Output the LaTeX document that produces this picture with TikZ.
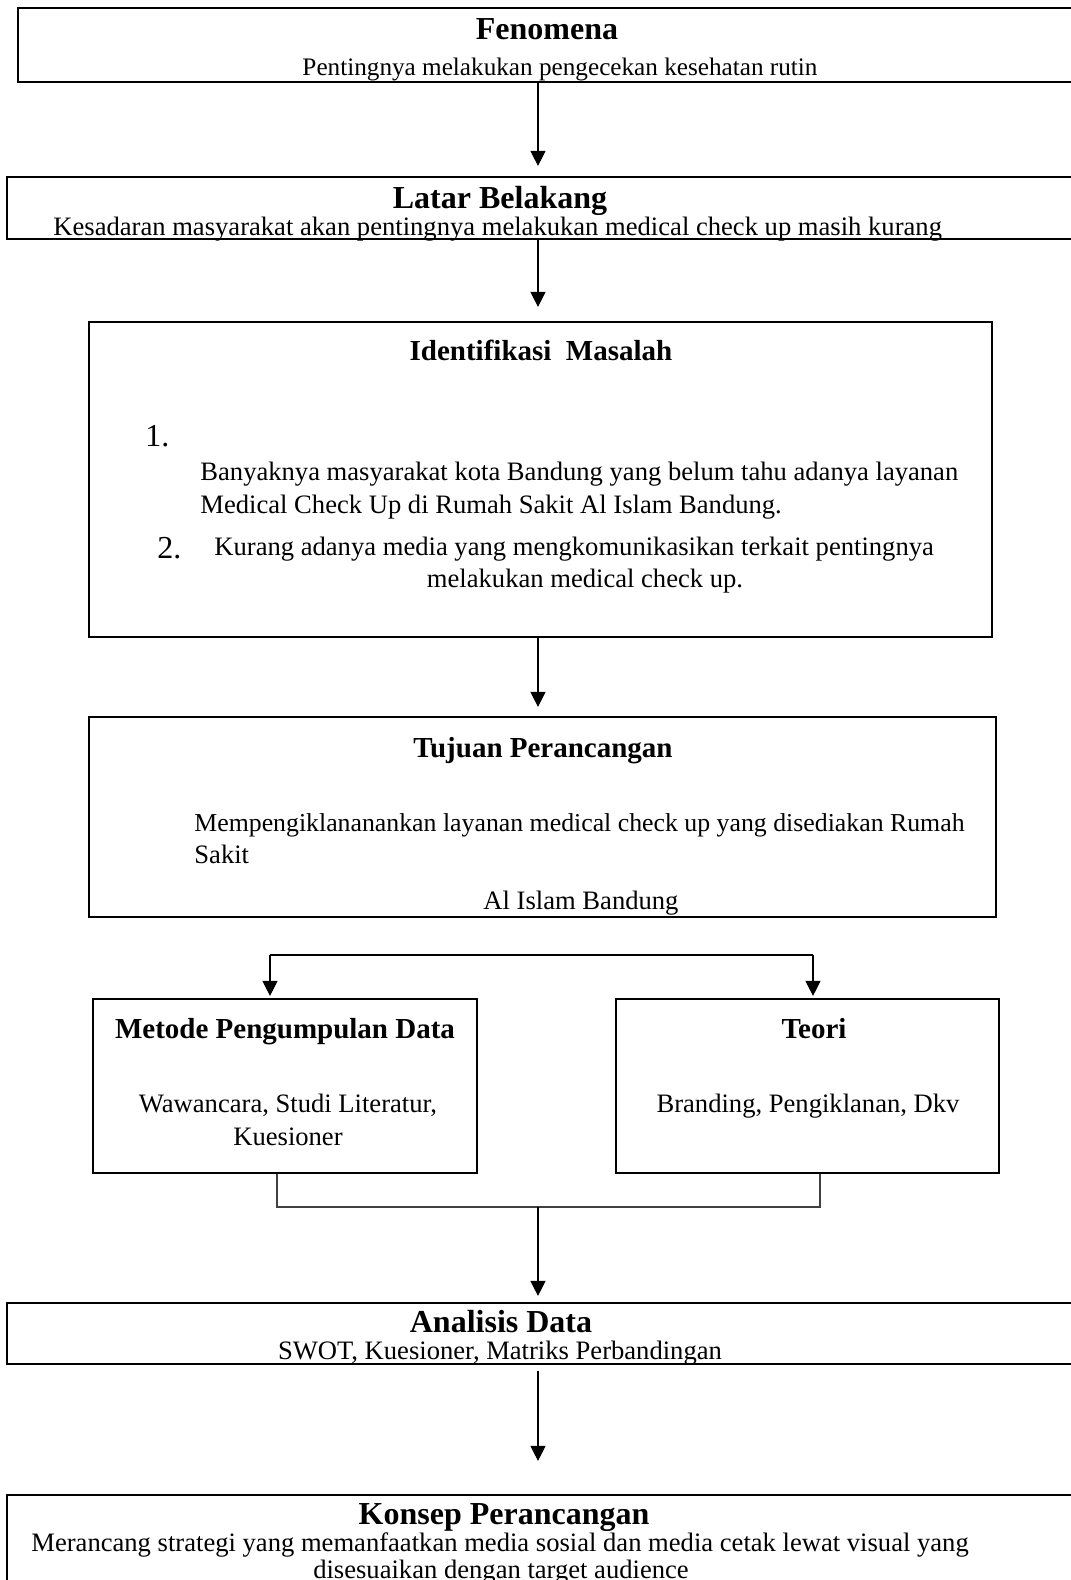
\documentclass[tikz,border=0pt]{standalone}
\usepackage{fontspec}
\setmainfont{Liberation Serif}
\usetikzlibrary{arrows.meta,fit}
\begin{document}
\begin{tikzpicture}[x=0.5pt,y=-0.5pt,
  box/.style={draw, line width=1.1pt, inner sep=0pt},
  body/.style={font=\fontsize{13.3}{16}\selectfont, inner sep=0pt},
  ttl/.style={font=\fontsize{16}{19}\selectfont\bfseries, inner sep=0pt},
  sttl/.style={font=\fontsize{14.5}{17}\selectfont\bfseries, inner sep=0pt},
  num/.style={font=\fontsize{16}{19}\selectfont, inner sep=0pt},
  arr/.style={-{Triangle[width=7.5pt,length=7.5pt]}, line width=0.6pt},
  link/.style={line width=0.6pt, draw=black!75}]
\useasboundingbox (0,0) rectangle (1071,1580);
\clip (0,0) rectangle (1071,1580);
\fill[white] (0,0) rectangle (1071,1580);
% boxes
\node[box, fit={(18,8) (1090,82)}] (fen) {};
\node[box, fit={(7,177) (1090,239)}] (lat) {};
\node[box, fit={(89,322) (992,637)}] (idm) {};
\node[box, fit={(89,717) (996,917)}] (tuj) {};
\node[box, fit={(93,999) (477,1173)}] (met) {};
\node[box, fit={(616,999) (999,1173)}] (teo) {};
\node[box, fit={(7,1303) (1090,1364)}] (ana) {};
\node[box, fit={(7,1495) (1090,1640)}] (kon) {};
% texts
\node[ttl, anchor=base] (fent) at (547,39) {Fenomena};
\node[body, font=\fontsize{12.6}{15}\selectfont, anchor=base] (fens) at (560,75) {Pentingnya melakukan pengecekan kesehatan rutin};
\node[ttl, anchor=base] (latt) at (500,208) {Latar Belakang};
\node[body, anchor=base west] (lats) at (53,235) {Kesadaran masyarakat akan pentingnya melakukan medical check up masih kurang};
\node[sttl, anchor=base] (idmt) at (541,360) {Identifikasi\ \ Masalah};
\node[num, anchor=base west] (n1) at (145,446) {1.};
\node[body, anchor=base west] (i1a) at (200,480) {Banyaknya masyarakat kota Bandung yang belum tahu adanya layanan};
\node[body, anchor=base west] (i1b) at (200,513) {Medical Check Up di Rumah Sakit Al Islam Bandung.};
\node[num, anchor=base west] (n2) at (157,558) {2.};
\node[body, anchor=base west] (i2a) at (214,555) {Kurang adanya media yang mengkomunikasikan terkait pentingnya};
\node[body, anchor=base] (i2b) at (585,587) {melakukan medical check up.};
\node[sttl, anchor=base] (tujt) at (543,757) {Tujuan Perancangan};
\node[body, font=\fontsize{12.9}{15.5}\selectfont, anchor=base west] (tj1) at (194,831) {Mempengiklananankan layanan medical check up yang disediakan Rumah};
\node[body, anchor=base west] (tj2) at (194,863) {Sakit};
\node[body, anchor=base] (tj3) at (581,909) {Al Islam Bandung};
\node[sttl, anchor=base] (mett) at (285,1038) {Metode Pengumpulan Data};
\node[body, anchor=base] (met1) at (288,1112) {Wawancara, Studi Literatur,};
\node[body, anchor=base] (met2) at (288,1145) {Kuesioner};
\node[sttl, anchor=base] (teot) at (814,1038) {Teori};
\node[body, anchor=base] (teo1) at (808,1112) {Branding, Pengiklanan, Dkv};
\node[ttl, anchor=base] (anat) at (501,1332) {Analisis Data};
\node[body, anchor=base] (anas) at (500,1359) {SWOT, Kuesioner, Matriks Perbandingan};
\node[ttl, anchor=base] (kont) at (504,1524) {Konsep Perancangan};
\node[body, anchor=base west] (kon1) at (31,1551) {Merancang strategi yang memanfaatkan media sosial dan media cetak lewat visual yang};
\node[body, anchor=base] (kon2) at (501,1578) {disesuaikan dengan target audience};
% connectors
\coordinate (cx) at (538,0);
\draw[arr, shorten >=5pt] (fen.south -| cx) -- (lat.north -| cx);
\draw[arr, shorten >=7pt] (lat.south -| cx) -- (idm.north -| cx);
\draw[arr, shorten >=4.5pt] (idm.south -| cx) -- (tuj.north -| cx);
\coordinate (bl) at (270,955);
\coordinate (brr) at (813,955);
\draw[line width=0.6pt] (bl) -- (brr);
\draw[arr, shorten >=1pt] (bl) -- (met.north -| bl);
\draw[arr, shorten >=1pt] (brr) -- (teo.north -| brr);
\coordinate (ml) at (277,1207);
\coordinate (mr) at (820,1207);
\draw[link] (met.south -| ml) -- (ml) -- (mr) -- (teo.south -| mr);
\coordinate (mc) at (538,1207);
\draw[arr, shorten >=3pt] (mc) -- (ana.north -| mc);
\draw[arr, shorten <=3pt, shorten >=16.5pt] (ana.south -| cx) -- (kon.north -| cx);
\end{tikzpicture}
\end{document}
